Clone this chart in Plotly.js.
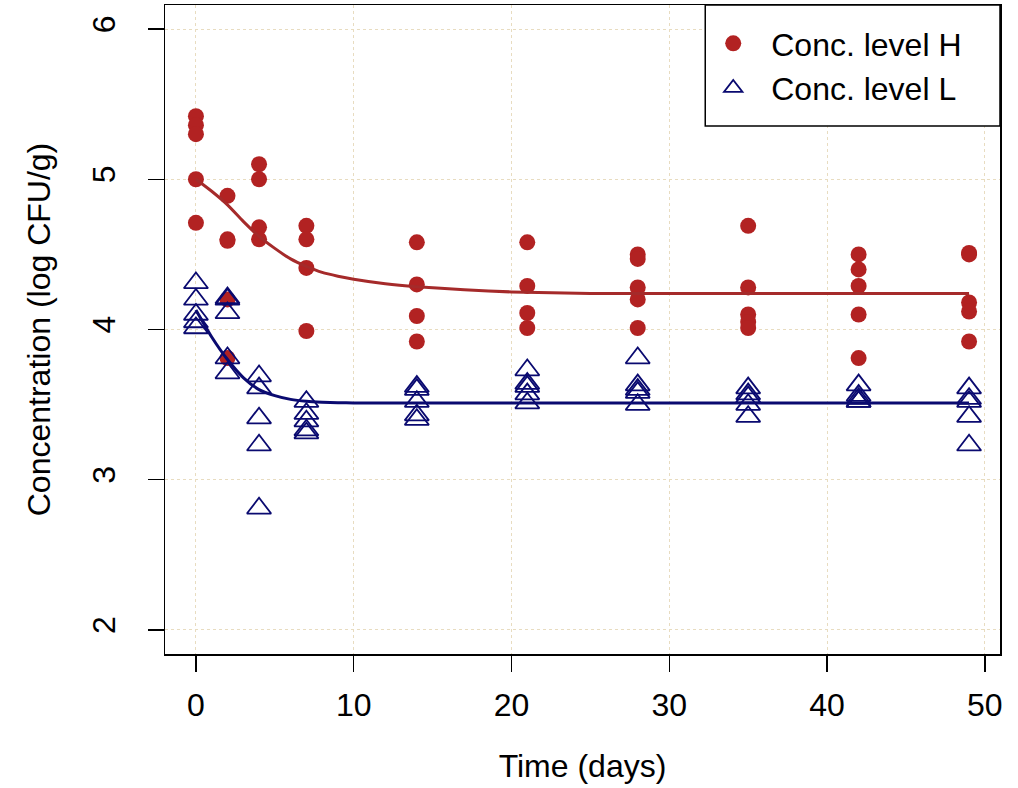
<!DOCTYPE html>
<html>
<head>
<meta charset="utf-8">
<script src="https://cdn.plot.ly/plotly-3.0.1.min.js"></script>
<style>html,body{margin:0;padding:0;background:#fff;}#chart{width:1018px;height:788px;}</style>
</head>
<body>
<div id="chart"></div>
<script>
// Observed data: conc. level H (filled circles)
const hDays = [0,0,0,0,0, 2,2,2,2,2, 4,4,4,4, 7,7,7,7, 14,14,14,14, 21,21,21,21, 28,28,28,28,28, 35,35,35,35,35, 42,42,42,42,42, 49,49,49,49,49];
const hConc = [5.42,5.36,5.30,5.00,4.71, 4.89,4.60,4.59,4.20,3.81, 5.10,5.00,4.68,4.60, 4.69,4.60,4.41,3.99, 4.58,4.30,4.09,3.92, 4.58,4.29,4.11,4.01, 4.50,4.47,4.28,4.20,4.01, 4.69,4.28,4.10,4.05,4.01, 4.50,4.40,4.29,4.10,3.81, 4.51,4.50,4.18,4.12,3.92];

// Observed data: conc. level L (open triangles)
const lDays = [0,0,0,0,0, 2,2,2,2,2, 4,4,4,4,4, 7,7,7,7,7, 14,14,14,14,14, 21,21,21,21,21, 28,28,28,28,28, 35,35,35,35,35, 42,42,42,42,42, 49,49,49,49,49];
const lConc = [4.31,4.20,4.10,4.05,4.01, 4.21,4.20,4.11,3.81,3.71, 3.69,3.61,3.41,3.23,2.81, 3.52,3.44,3.39,3.33,3.31, 3.62,3.60,3.52,3.43,3.40, 3.73,3.64,3.62,3.57,3.51, 3.81,3.63,3.60,3.58,3.50, 3.61,3.57,3.55,3.50,3.42, 3.63,3.56,3.54,3.52,3.52, 3.61,3.54,3.52,3.42,3.23];

// Fitted curves
const fitDays = [0,1,2,3,4,5,6,7,8,9,10,12,14,17,20,25,30,35,40,45,49];
const hFit = [5.00,4.92,4.83,4.72,4.62,4.54,4.47,4.42,4.38,4.355,4.335,4.305,4.285,4.265,4.25,4.24,4.24,4.24,4.24,4.24,4.24];
const lFit = [4.13,3.95,3.80,3.68,3.60,3.56,3.535,3.522,3.516,3.513,3.511,3.51,3.51,3.51,3.51,3.51,3.51,3.51,3.51,3.51,3.51];

// Axis ticks and labels
const xTicks = [0,10,20,30,40,50];
const yTicks = [2,3,4,5,6];
const seriesNames = ['Conc. level H','Conc. level L'];
const xTitle = 'Time (days)';
const yTitle = 'Concentration (log CFU/g)';

const FONT = 'Liberation Sans, Arial, sans-serif';
const red = '#b22222';
const navy = '#0a0a70';

const traces = [
  {x: hDays, y: hConc, type: 'scatter', mode: 'markers', name: seriesNames[0],
   marker: {symbol: 'circle', size: 16, color: red, line: {width: 0}}},
  {x: lDays, y: lConc, type: 'scatter', mode: 'markers', name: seriesNames[1],
   marker: {symbol: 'triangle-up-open', size: 21, color: navy, line: {width: 1.8, color: navy}}},
  {x: fitDays, y: hFit, type: 'scatter', mode: 'lines', showlegend: false, hoverinfo: 'skip',
   line: {color: '#a52a2a', width: 3, shape: 'spline', smoothing: 0.6}},
  {x: fitDays, y: lFit, type: 'scatter', mode: 'lines', showlegend: false, hoverinfo: 'skip',
   line: {color: navy, width: 3, shape: 'spline', smoothing: 0.6}}
];

const axisCommon = {
  showline: true, mirror: true, linecolor: '#000', linewidth: 1.5,
  ticks: 'outside', ticklen: 16, tickwidth: 1.5, tickcolor: '#000',
  showgrid: true, gridcolor: '#e8dcc0', griddash: 'dot', gridwidth: 1,
  zeroline: false, automargin: false,
  tickfont: {family: FONT, size: 32, color: '#000'}
};

const layout = {
  width: 1018, height: 788,
  margin: {l: 165, r: 18, t: 5, b: 134},
  paper_bgcolor: '#fff', plot_bgcolor: '#fff',
  showlegend: true,
  xaxis: Object.assign({}, axisCommon, {
    range: [-1.96, 50.96], tickmode: 'array', tickvals: xTicks, ticklabelstandoff: 6,
    title: {text: xTitle, font: {family: FONT, size: 32, color: '#000'}, standoff: 32}
  }),
  yaxis: Object.assign({}, axisCommon, {
    range: [1.84, 6.16], tickmode: 'array', tickvals: yTicks, tickangle: -90, ticklabelstandoff: 20,
    title: {text: yTitle, font: {family: FONT, size: 32, color: '#000'}, standoff: 25}
  }),
  legend: {
    x: 0.635, y: 0.983, xanchor: 'left', yanchor: 'top',
    bgcolor: 'rgba(0,0,0,0)', borderwidth: 0, itemwidth: 66,
    font: {family: FONT, size: 32, color: '#000'}, tracegroupgap: 0
  },
  shapes: [
    {type: 'rect', xref: 'paper', yref: 'paper', x0: 0.647, x1: 1, y0: 0.8135, y1: 1,
     line: {color: '#000', width: 1.5}, fillcolor: '#fff', layer: 'above'}
  ]
};

Plotly.newPlot('chart', traces, layout, {displayModeBar: false, staticPlot: true});
</script>
</body>
</html>
